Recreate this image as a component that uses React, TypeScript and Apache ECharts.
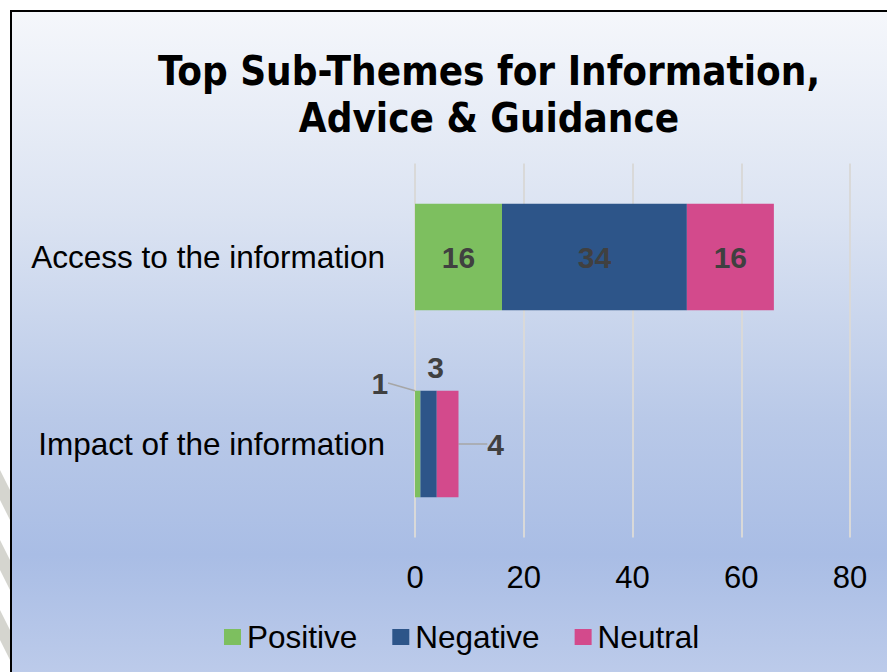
import React, { useEffect, useRef } from "react";
import * as echarts from "echarts";

const categories = ["Access to the information", "Impact of the information"];
const seriesNames = ["Positive", "Negative", "Neutral"];
const positive = [16, 1];
const negative = [34, 3];
const neutral = [16, 4];
const axisMin = 0;
const axisMax = 80;
const axisStep = 20;
const titleText = "Top Sub-Themes for Information,\nAdvice & Guidance";

const colors = ["#7dbf5f", "#2d5589", "#d34a8c"];
const stripeStarts = [470, 540, 610, 680];

export default function App() {
  const ref = useRef<HTMLDivElement>(null);

  useEffect(() => {
    if (!ref.current) return;
    const chart = echarts.init(ref.current, null, { renderer: "svg" });

    const labelBase = {
      show: true,
      position: "inside",
      fontSize: 30,
      fontWeight: "bold",
      fontFamily: "Liberation Sans, Arial, sans-serif",
      color: "#404040",
    };

    // offsets for the small row's labels (style only)
    const smallOffsets: Record<number, [number, number]> = {
      0: [-38, -61],
      1: [7, -77],
      2: [48, 0],
    };

    const values = [positive, negative, neutral];

    const series = seriesNames.map((name, si) => ({
      name,
      type: "bar",
      stack: "total",
      barWidth: "57%",
      itemStyle: { color: colors[si] },
      data: values[si],
      label: { ...labelBase },
      labelLine: {
        show: si !== 1,
        lineStyle: { color: "#a6a6a6", width: 1.5 },
      },
      labelLayout: (params: any) => {
        if (params.dataIndex === 1) {
          const [dx, dy] = smallOffsets[si];
          return { dx, dy };
        }
        return {};
      },
    }));

    const stripes = stripeStarts.map((y0) => ({
      type: "polygon",
      z: -5,
      shape: {
        points: [
          [0, y0],
          [10, y0 + 20],
          [10, y0 + 50],
          [0, y0 + 30],
        ],
      },
      style: { fill: "#d5d5cf" },
    }));

    chart.setOption({
      animation: false,
      backgroundColor: "#ffffff",
      title: {
        text: titleText,
        left: 484,
        top: 42,
        textAlign: "center",
        textStyle: {
          fontFamily: "DejaVu Sans Condensed, DejaVu Sans, sans-serif",
          fontWeight: "bold",
          fontSize: 40,
          lineHeight: 47,
          color: "#000000",
        },
      },
      graphic: [
        {
          type: "rect",
          z: -10,
          shape: { x: 11, y: 11, width: 890, height: 680 },
          style: {
            fill: {
              type: "linear",
              x: 0,
              y: 0,
              x2: 0,
              y2: 1,
              colorStops: [
                { offset: 0, color: "#f5f7fb" },
                { offset: 0.3, color: "#dbe3f2" },
                { offset: 0.6, color: "#b9c9e8" },
                { offset: 0.8, color: "#a9bde5" },
                { offset: 1, color: "#bfcdeb" },
              ],
            },
            stroke: "#000000",
            lineWidth: 2,
          },
        },
        ...stripes,
      ],
      legend: {
        data: seriesNames,
        left: 219,
        top: 616,
        icon: "rect",
        itemWidth: 17,
        itemHeight: 16,
        itemGap: 35,
        textStyle: {
          fontSize: 31.5,
          fontFamily: "Liberation Sans, Arial, sans-serif",
          color: "#000000",
          padding: [0, 0, 0, 1],
        },
      },
      grid: {
        left: 415,
        right: 37,
        top: 163.5,
        bottom: 134.5,
        containLabel: false,
      },
      xAxis: {
        type: "value",
        min: axisMin,
        max: axisMax,
        interval: axisStep,
        axisLine: { show: false },
        axisTick: { show: false },
        splitLine: { show: true, lineStyle: { color: "#d9d9d9", width: 2 } },
        axisLabel: {
          fontSize: 31,
          fontFamily: "Liberation Sans, Arial, sans-serif",
          color: "#000000",
          margin: 24,
        },
      },
      yAxis: {
        type: "category",
        data: categories,
        inverse: true,
        axisLine: { show: false },
        axisTick: { show: false },
        axisLabel: {
          fontSize: 31.5,
          fontFamily: "Liberation Sans, Arial, sans-serif",
          color: "#000000",
          margin: 30,
        },
      },
      series,
    });

    return () => chart.dispose();
  }, []);

  return (
    <div
      ref={ref}
      style={{ position: "fixed", left: 0, top: 0, width: 887, height: 672 }}
    />
  );
}
